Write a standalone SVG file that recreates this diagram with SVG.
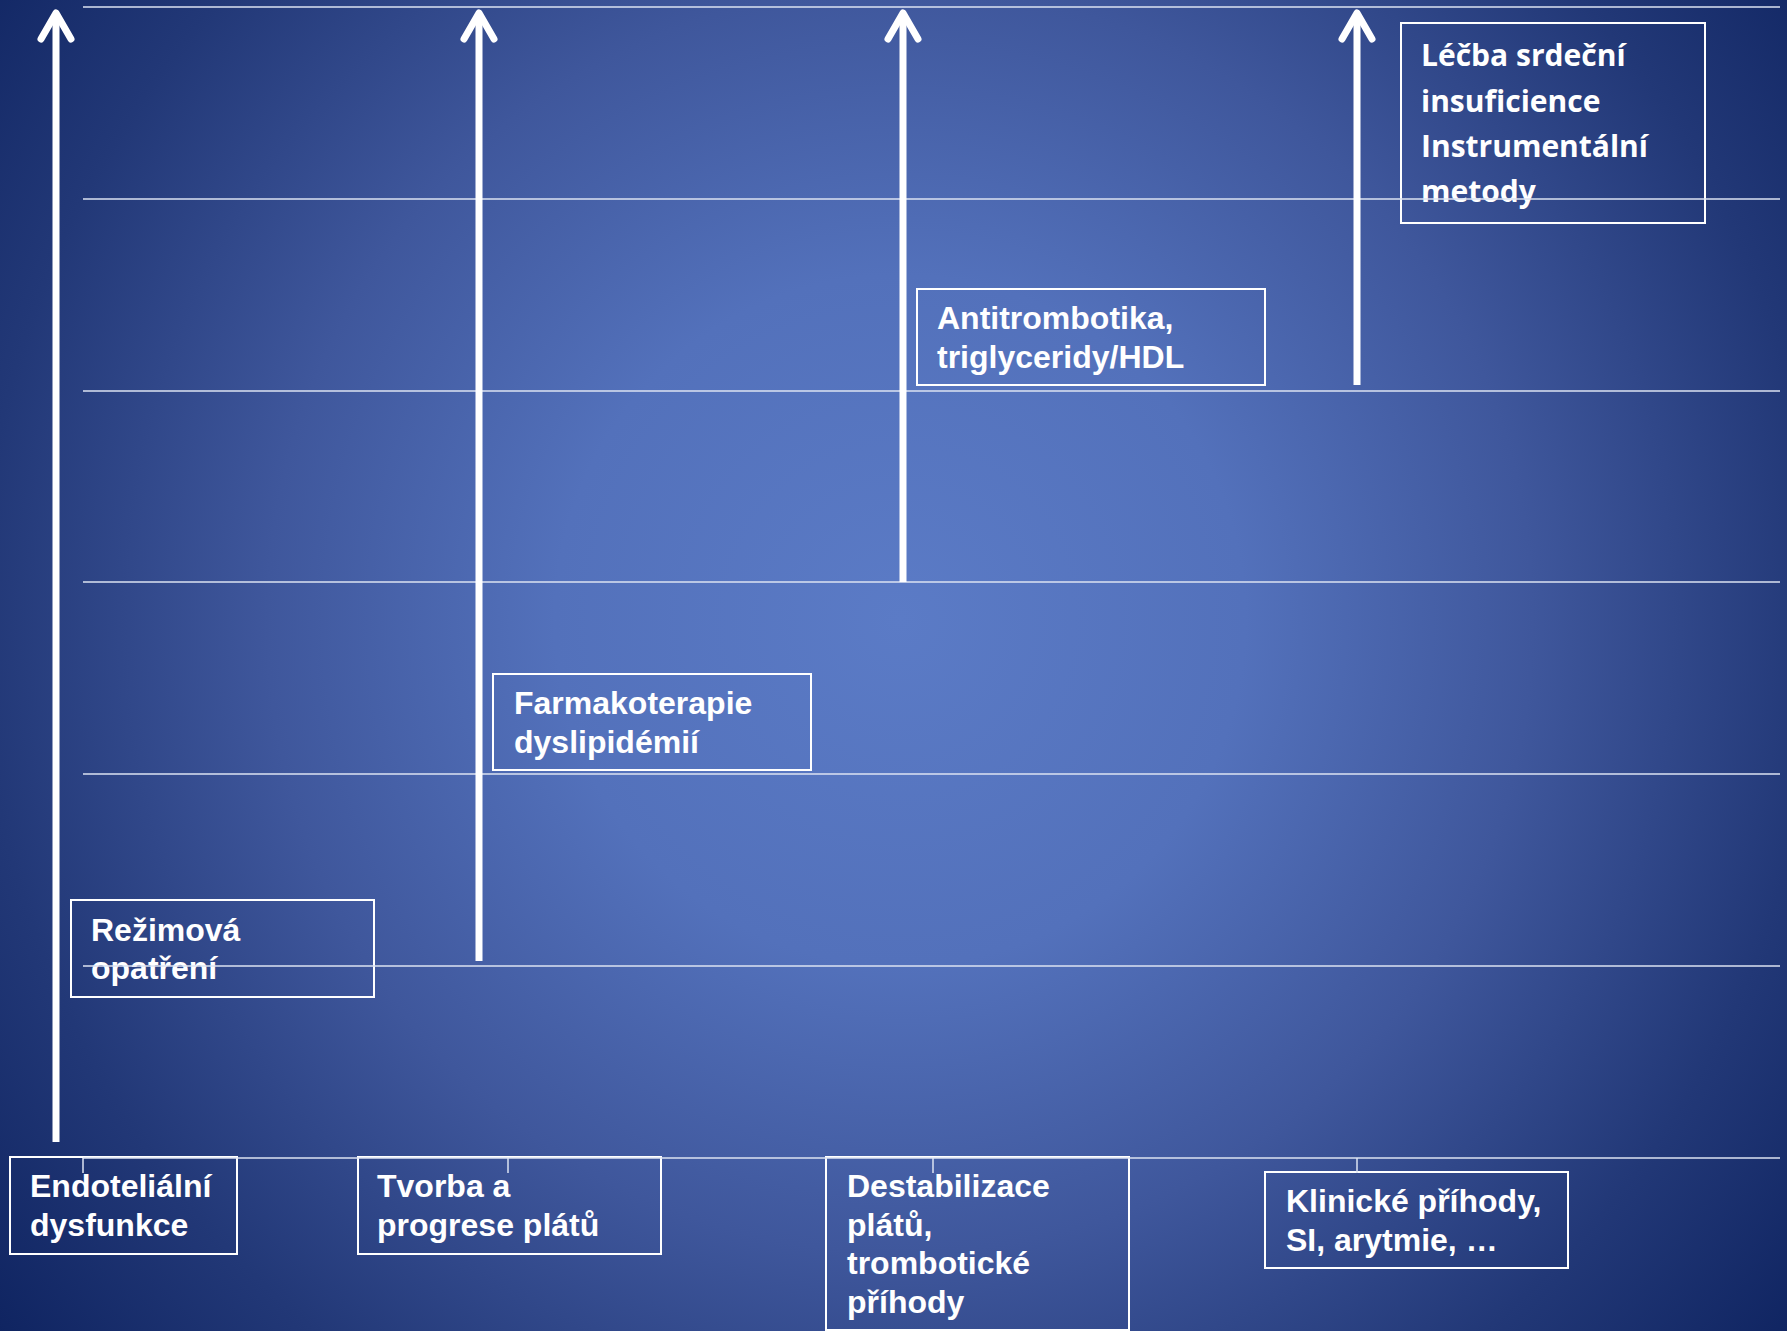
<svg xmlns="http://www.w3.org/2000/svg" width="1787" height="1331" viewBox="0 0 1787 1331">
  <defs>
    <radialGradient id="bg" gradientUnits="userSpaceOnUse" cx="900" cy="620" r="1150">
      <stop offset="0" stop-color="#5b7bc6"/>
      <stop offset="0.3" stop-color="#5371bb"/>
      <stop offset="0.55" stop-color="#3f579c"/>
      <stop offset="0.8" stop-color="#223877"/>
      <stop offset="1" stop-color="#0f2461"/>
    </radialGradient>
    <marker id="chev" markerUnits="userSpaceOnUse" viewBox="-40 -25 50 50" refX="0" refY="0" markerWidth="50" markerHeight="50" orient="auto" overflow="visible">
      <path d="M-26,-15 L0,0 L-26,15" fill="none" stroke="#ffffff" stroke-width="7" stroke-linecap="round" stroke-linejoin="round"/>
    </marker>
    <style>
      .grid { stroke: #dde3f2; stroke-width: 1.5; fill: none; }
      .box { fill: none; stroke: #ffffff; stroke-width: 2; }
      .arrow { stroke: #ffffff; stroke-width: 7; fill: none; marker-end: url(#chev); }
      .t { font-family: "Liberation Sans", Arial, sans-serif; font-weight: bold; font-size: 32px; fill: #ffffff; }
      .tc { font-family: "Open Sans", "Liberation Sans", sans-serif; font-weight: bold; font-size: 30px; fill: #ffffff; }
    </style>
  </defs>

  <rect x="0" y="0" width="1787" height="1331" fill="url(#bg)"/>

  <g id="n-endotelialni">
    <rect class="box" x="10" y="1157" width="227" height="97"/>
    <text class="t" x="30" y="1197">Endoteliální</text>
    <text class="t" x="30" y="1236">dysfunkce</text>
  </g>
  <g id="n-tvorba">
    <rect class="box" x="358" y="1157" width="303" height="97"/>
    <text class="t" x="377" y="1197">Tvorba a</text>
    <text class="t" x="377" y="1236">progrese plátů</text>
  </g>
  <g id="n-destabilizace">
    <rect class="box" x="826" y="1157" width="303" height="173"/>
    <text class="t" x="847" y="1197">Destabilizace</text>
    <text class="t" x="847" y="1236">plátů,</text>
    <text class="t" x="847" y="1274">trombotické</text>
    <text class="t" x="847" y="1313">příhody</text>
  </g>
  <g id="n-klinicke">
    <rect class="box" x="1265" y="1172" width="303" height="96"/>
    <text class="t" x="1286" y="1212">Klinické příhody,</text>
    <text class="t" x="1286" y="1251">SI, arytmie, …</text>
  </g>
  <g id="n-rezimova">
    <rect class="box" x="71" y="900" width="303" height="97"/>
    <text class="t" x="91" y="941">Režimová</text>
    <text class="t" x="91" y="979">opatření</text>
  </g>
  <g id="n-farmakoterapie">
    <rect class="box" x="493" y="674" width="318" height="96"/>
    <text class="t" x="514" y="714">Farmakoterapie</text>
    <text class="t" x="514" y="753">dyslipidémií</text>
  </g>
  <g id="n-antitrombotika">
    <rect class="box" x="917" y="289" width="348" height="96"/>
    <text class="t" x="937" y="329">Antitrombotika,</text>
    <text class="t" x="937" y="368">triglyceridy/HDL</text>
  </g>
  <g id="n-lecba">
    <rect class="box" x="1401" y="23" width="304" height="200"/>
    <text class="tc" x="1421" y="66">Léčba srdeční</text>
    <text class="tc" x="1421" y="112">insuficience</text>
    <text class="tc" x="1421" y="157">Instrumentální</text>
    <text class="tc" x="1421" y="202">metody</text>
  </g>

  <g id="connectors">
    <line class="grid" x1="83" y1="7" x2="1780" y2="7"/>
    <line class="grid" x1="83" y1="199" x2="1780" y2="199"/>
    <line class="grid" x1="83" y1="391" x2="1780" y2="391"/>
    <line class="grid" x1="83" y1="582" x2="1780" y2="582"/>
    <line class="grid" x1="83" y1="774" x2="1780" y2="774"/>
    <line class="grid" x1="83" y1="966" x2="1780" y2="966"/>
    <line class="grid" x1="83" y1="1158" x2="1780" y2="1158"/>
    <line class="grid" x1="83" y1="1158" x2="83" y2="1173"/>
    <line class="grid" x1="508" y1="1158" x2="508" y2="1173"/>
    <line class="grid" x1="933" y1="1158" x2="933" y2="1173"/>
    <line class="grid" x1="1357" y1="1158" x2="1357" y2="1173"/>
    <line class="arrow" x1="56" y1="1142" x2="56" y2="13"/>
    <line class="arrow" x1="479" y1="961" x2="479" y2="13"/>
    <line class="arrow" x1="903" y1="582" x2="903" y2="13"/>
    <line class="arrow" x1="1357" y1="385" x2="1357" y2="13"/>
  </g>
</svg>
